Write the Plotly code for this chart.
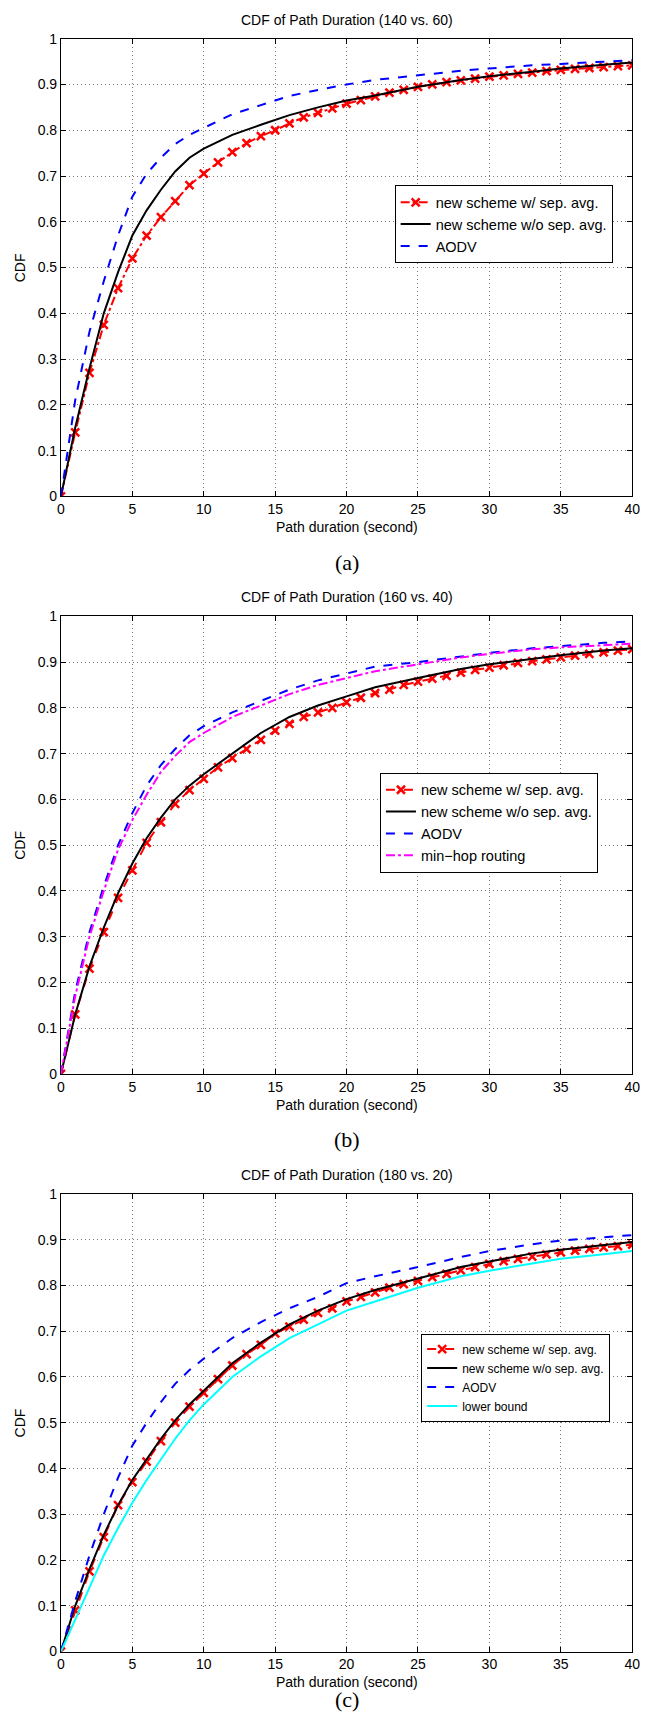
import plotly.graph_objects as go

# ---- data ----
sec = list(range(0, 41))

# (a) 140 vs. 60
a_red = [0, 0.14, 0.27, 0.375, 0.455, 0.52, 0.57, 0.61, 0.645, 0.68, 0.705, 0.73, 0.752, 0.772, 0.787, 0.80,
         0.815, 0.828, 0.838, 0.848, 0.858, 0.866, 0.874, 0.882, 0.888, 0.895, 0.90, 0.905, 0.909, 0.913, 0.917,
         0.92, 0.923, 0.926, 0.929, 0.932, 0.934, 0.936, 0.938, 0.94, 0.942]
a_x = [0, 1, 2, 3, 4, 5, 6, 7, 8, 9, 10, 12, 14, 16, 18, 20, 22, 25, 28, 30, 33, 35, 38, 40]
a_black = [0, 0.15, 0.28, 0.40, 0.49, 0.57, 0.625, 0.67, 0.71, 0.74, 0.76, 0.79, 0.812, 0.833, 0.85, 0.865,
           0.876, 0.895, 0.91, 0.918, 0.928, 0.935, 0.943, 0.948]
a_aodv = [0, 0.21, 0.36, 0.47, 0.57, 0.655, 0.705, 0.74, 0.77, 0.79, 0.805, 0.835, 0.855, 0.875, 0.888, 0.90,
          0.91, 0.92, 0.93, 0.935, 0.942, 0.945, 0.95, 0.953]

# (b) 160 vs. 40
b_red = [0, 0.13, 0.23, 0.31, 0.385, 0.445, 0.505, 0.55, 0.59, 0.62, 0.645, 0.67, 0.69, 0.71, 0.73, 0.75,
         0.765, 0.78, 0.79, 0.80, 0.812, 0.822, 0.832, 0.84, 0.85, 0.857, 0.864, 0.87, 0.877, 0.883, 0.888,
         0.893, 0.898, 0.902, 0.906, 0.91, 0.914, 0.918, 0.921, 0.925, 0.928]
b_x = [0, 1, 2, 3, 4, 5, 6, 7, 8, 9, 10, 12, 14, 16, 18, 20, 22, 25, 28, 30, 33, 35, 38, 40]
b_black = [0, 0.13, 0.235, 0.32, 0.395, 0.46, 0.515, 0.56, 0.60, 0.63, 0.655, 0.70, 0.745, 0.78, 0.805, 0.825,
           0.845, 0.865, 0.885, 0.895, 0.908, 0.915, 0.925, 0.93]
b_aodv = [0, 0.18, 0.31, 0.41, 0.50, 0.57, 0.63, 0.675, 0.71, 0.74, 0.76, 0.79, 0.815, 0.84, 0.86, 0.875,
          0.89, 0.90, 0.912, 0.92, 0.93, 0.935, 0.942, 0.945]
b_minhop = [0, 0.17, 0.30, 0.40, 0.49, 0.555, 0.61, 0.66, 0.695, 0.725, 0.745, 0.78, 0.805, 0.83, 0.85, 0.865,
            0.88, 0.895, 0.91, 0.918, 0.928, 0.932, 0.937, 0.94]

# (c) 180 vs. 20
c_red = [0, 0.09, 0.175, 0.25, 0.32, 0.37, 0.415, 0.46, 0.50, 0.535, 0.565, 0.595, 0.625, 0.65, 0.67, 0.695,
         0.71, 0.725, 0.74, 0.75, 0.765, 0.775, 0.785, 0.795, 0.803, 0.81, 0.818, 0.825, 0.833, 0.84, 0.847,
         0.853, 0.858, 0.863, 0.868, 0.872, 0.876, 0.88, 0.883, 0.886, 0.889]
c_x = [0, 1, 2, 3, 4, 5, 6, 7, 8, 9, 10, 12, 14, 16, 18, 20, 22, 25, 28, 30, 33, 35, 38, 40]
c_black = [0, 0.10, 0.18, 0.255, 0.32, 0.375, 0.42, 0.465, 0.505, 0.54, 0.57, 0.63, 0.675, 0.715, 0.745, 0.77,
           0.79, 0.815, 0.84, 0.852, 0.87, 0.878, 0.889, 0.895]
c_aodv = [0, 0.11, 0.21, 0.30, 0.38, 0.45, 0.50, 0.545, 0.585, 0.615, 0.64, 0.685, 0.72, 0.75, 0.775, 0.805,
          0.82, 0.84, 0.862, 0.875, 0.89, 0.898, 0.905, 0.91]
c_lower = [0, 0.07, 0.14, 0.21, 0.27, 0.325, 0.375, 0.42, 0.465, 0.505, 0.54, 0.60, 0.645, 0.685, 0.715, 0.745,
           0.765, 0.795, 0.82, 0.832, 0.848, 0.858, 0.868, 0.875]

titles = ['CDF of Path Duration (140 vs. 60)', 'CDF of Path Duration (160 vs. 40)', 'CDF of Path Duration (180 vs. 20)']
captions = ['(a)', '(b)', '(c)']
x_ticks = list(range(0, 41, 5))
y_ticks = [0, 0.1, 0.2, 0.3, 0.4, 0.5, 0.6, 0.7, 0.8, 0.9, 1]
y_labels = ['0', '0.1', '0.2', '0.3', '0.4', '0.5', '0.6', '0.7', '0.8', '0.9', '1']

W, H = 651, 1720
FONT = 'Liberation Sans'
# panel pixel boxes (top, bottom, caption offset below axis)
panels = [(31, 493, 67), (614, 1076, 66), (1197, 1659, 48)]
left_px, right_px = 58, 640

fig = go.Figure()

red_marker = dict(symbol='x-thin', size=8, line=dict(width=2.5, color='red'), color='red')

# (a)
fig.add_trace(go.Scatter(x=sec, y=a_red, mode='lines+markers', name='new scheme w/ sep. avg.',
                         line=dict(color='red', width=2, dash='dashdot'), marker=red_marker,
                         xaxis='x', yaxis='y', legend='legend'))
fig.add_trace(go.Scatter(x=a_x, y=a_black, mode='lines', name='new scheme w/o sep. avg.',
                         line=dict(color='black', width=2), xaxis='x', yaxis='y', legend='legend'))
fig.add_trace(go.Scatter(x=a_x, y=a_aodv, mode='lines', name='AODV',
                         line=dict(color='blue', width=2, dash='dash'), xaxis='x', yaxis='y', legend='legend'))

# (b)
fig.add_trace(go.Scatter(x=sec, y=b_red, mode='lines+markers', name='new scheme w/ sep. avg.',
                         line=dict(color='red', width=2, dash='dash'), marker=red_marker,
                         xaxis='x2', yaxis='y2', legend='legend2'))
fig.add_trace(go.Scatter(x=b_x, y=b_black, mode='lines', name='new scheme w/o sep. avg.',
                         line=dict(color='black', width=2), xaxis='x2', yaxis='y2', legend='legend2'))
fig.add_trace(go.Scatter(x=b_x, y=b_aodv, mode='lines', name='AODV',
                         line=dict(color='blue', width=2, dash='dash'), xaxis='x2', yaxis='y2', legend='legend2'))
fig.add_trace(go.Scatter(x=b_x, y=b_minhop, mode='lines', name='min\u2212hop routing',
                         line=dict(color='magenta', width=2, dash='dashdot'), xaxis='x2', yaxis='y2', legend='legend2'))

# (c)
fig.add_trace(go.Scatter(x=sec, y=c_red, mode='lines+markers', name='new scheme w/ sep. avg.',
                         line=dict(color='red', width=2, dash='dash'), marker=red_marker,
                         xaxis='x3', yaxis='y3', legend='legend3'))
fig.add_trace(go.Scatter(x=c_x, y=c_black, mode='lines', name='new scheme w/o sep. avg.',
                         line=dict(color='black', width=2), xaxis='x3', yaxis='y3', legend='legend3'))
fig.add_trace(go.Scatter(x=c_x, y=c_aodv, mode='lines', name='AODV',
                         line=dict(color='blue', width=2, dash='dash'), xaxis='x3', yaxis='y3', legend='legend3'))
fig.add_trace(go.Scatter(x=c_x, y=c_lower, mode='lines', name='lower bound',
                         line=dict(color='cyan', width=2), xaxis='x3', yaxis='y3', legend='legend3'))

axis_style = dict(showline=True, linecolor='black', linewidth=1, mirror='ticks', ticks='inside', ticklen=5,
                  tickcolor='black', showgrid=True, gridcolor='#777777', griddash='1px,3px', gridwidth=1,
                  zeroline=False, tickfont=dict(family=FONT, size=14, color='black'))

layout = dict(width=W, height=H, margin=dict(l=0, r=0, t=0, b=0), paper_bgcolor='white',
              plot_bgcolor='white', showlegend=True, annotations=[])
xdom = [left_px / W, right_px / W]
mid_x = (left_px + right_px) / 2 / W


def txt(text, xp, yp, size=14, family=FONT, angle=0):
    return dict(text=text, x=xp, y=yp, xref='paper', yref='paper', xanchor='center', yanchor='middle',
                textangle=angle, showarrow=False, font=dict(family=family, size=size, color='black'))


for i, (top, bot, cap) in enumerate(panels):
    sfx = '' if i == 0 else str(i + 1)
    ydom = [1 - bot / H, 1 - top / H]
    layout['xaxis' + sfx] = dict(axis_style, domain=xdom, range=[0, 40], tickvals=x_ticks,
                                 anchor='y' + sfx)
    layout['yaxis' + sfx] = dict(axis_style, domain=ydom, range=[0, 1], tickvals=y_ticks,
                                 ticktext=y_labels, anchor='x' + sfx)
    anns = layout['annotations']
    anns.append(txt(titles[i], mid_x, 1 - (top - 19) / H))
    anns.append(txt('Path duration (second)', mid_x, 1 - (bot + 31) / H))
    anns.append(txt('CDF', 16 / W, 1 - (top + bot) / 2 / H, angle=-90))
    anns.append(txt(captions[i], mid_x, 1 - (bot + cap) / H, size=22, family='Liberation Serif'))

legend_style = dict(bgcolor='white', bordercolor='black', borderwidth=1, xanchor='left', yanchor='top',
                    tracegroupgap=0, itemwidth=30)
layout['legend'] = dict(legend_style, x=398 / W, y=1 - 179 / H, font=dict(family=FONT, size=14.5, color='black'))
layout['legend2'] = dict(legend_style, x=383 / W, y=1 - 772 / H, font=dict(family=FONT, size=14.5, color='black'))
layout['legend3'] = dict(legend_style, x=425 / W, y=1 - 1338 / H, font=dict(family=FONT, size=12, color='black'))

fig.update_layout(**layout)
# drop the default 8px page margin so the figure sits at the window's corner
fig.write_html("out.html", config={'displayModeBar': False},
               post_script="document.body.style.margin='0';")
